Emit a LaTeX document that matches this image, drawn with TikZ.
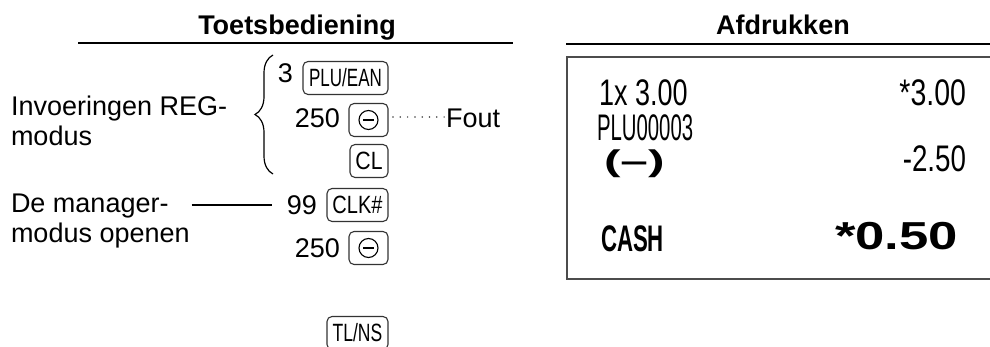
\documentclass[tikz,border=0pt]{standalone}
\usepackage{fontspec}
\setmainfont{Liberation Sans}
\usepackage{graphicx}
\usetikzlibrary{decorations.pathreplacing}
\newcommand\keytxt[2]{\scalebox{#1}[1]{\fontsize{25}{25}\selectfont #2}}
\newcommand\rct[2]{\scalebox{#1}[1]{#2}}
\begin{document}
\begin{tikzpicture}[x=1pt,y=-1pt,
  every node/.style={inner sep=0pt, outer sep=0pt},
  font=\fontsize{27}{30}\selectfont,
  keybox/.style={draw=black!80, rounded corners=5pt, line width=1.1pt, minimum height=33pt, anchor=east},
  rule/.style={line width=1.4pt, black},
  rcpt/.style={font=\fontsize{37}{37}\selectfont},
  dotline/.style={line width=1.7pt, black!75, line cap=round, dash pattern=on 0pt off 7.3pt},
  conn/.style={line width=1.2pt, black}]
\useasboundingbox (0,0) rectangle (990,347);
% headers
\node[anchor=base, font=\fontsize{27}{30}\selectfont\bfseries] (h1) at (297,35) {Toetsbediening};
\node[anchor=base, font=\fontsize{27}{30}\selectfont\bfseries] (h2) at (783,35) {Afdrukken};
\draw[rule] (78,43) -- (513,43);
\draw[rule] (566,44) -- (992,44);
% left labels
\node[anchor=base west] (lab1) at (11,116) {Invoeringen REG-};
\node[anchor=base west] (lab2) at (11,146) {modus};
\node[anchor=base west] (lab3) at (11,213) {De manager-};
\node[anchor=base west] (lab4) at (11,243) {modus openen};
% brace
\draw[line width=1.2pt, decorate, decoration={brace, amplitude=18pt}] (273,174) -- (273,55);
% keys
\node[keybox, minimum width=85pt] (kplu) at (388,78) {\keytxt{0.68}{PLU/EAN}};
\node[keybox, minimum width=39pt] (kmin1) at (388,120) {};
\node[keybox, minimum width=38pt] (kcl) at (388,161) {\keytxt{0.85}{CL}};
\node[keybox, minimum width=61pt] (kclk) at (388,205) {\keytxt{0.8}{CLK\#}};
\node[keybox, minimum width=39pt] (kmin2) at (388,248) {};
\node[keybox, minimum width=61pt] (ktl) at (388,333) {\keytxt{0.7}{TL/NS}};
\foreach \k in {kmin1,kmin2}{
  \draw[line width=1.1pt] (\k.center) circle (9.5pt);
  \draw[line width=1.1pt] ([xshift=-5.5pt]\k.center) -- ([xshift=5.5pt]\k.center);
}
% numbers
\node[anchor=base east] (n3) at (293,83) {3};
\node[anchor=base east] (n250a) at (340,128) {250};
\node[anchor=base east] (n99) at (317,215) {99};
\node[anchor=base east] (n250b) at (340,258) {250};
\node[anchor=base west] (fout) at (446,128) {Fout};
% connectors
\draw[dotline] ([xshift=5pt,yshift=3pt]kmin1.east) -- ([xshift=1pt,yshift=3pt]kmin1.east -| fout.west);
\draw[conn] ([xshift=23pt]lab3.east |- kclk.east) -- ([xshift=-15pt]n99.west |- kclk.east);
% receipt
\draw[line width=2pt, black!70] (992,57) -- (567,57) -- (567,279) -- (992,279);
\node[rcpt, anchor=base west] (r1) at (599,106) {\rct{0.73}{1x 3.00}};
\node[rcpt, anchor=base east] (r1v) at (966,106) {\rct{0.77}{*3.00}};
\node[rcpt, anchor=base west] (r2) at (597,141) {\rct{0.55}{PLU00003}};
\node[anchor=base west, font=\fontsize{30}{30}\selectfont\bfseries] (r3) at (604,172) {\rct{1.65}{(–)}};
\node[rcpt, anchor=base east] (r3v) at (966,172) {\rct{0.75}{-2.50}};
\node[rcpt, anchor=base west] (r4) at (601,252) {\rct{0.6}{\bfseries CASH}};
\node[anchor=base east, font=\fontsize{39}{39}\selectfont\bfseries] (r4v) at (958,250) {\rct{1.35}{*0.50}};
\end{tikzpicture}
\end{document}
